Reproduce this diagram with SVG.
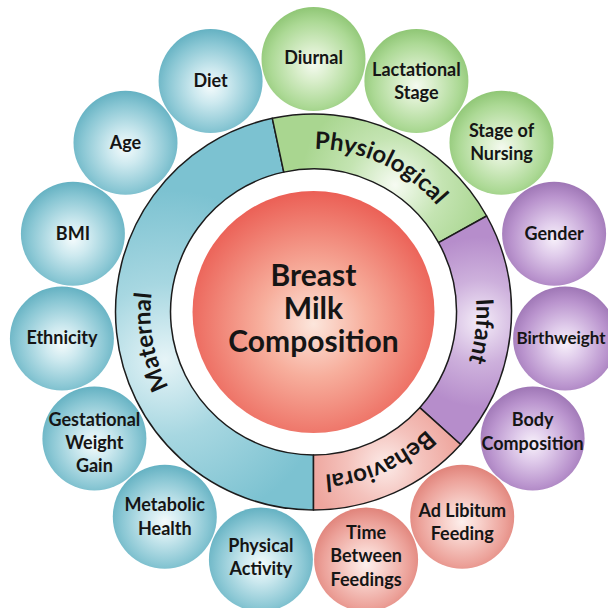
<svg xmlns="http://www.w3.org/2000/svg" width="608" height="608" viewBox="0 0 608 608">
<style>
  .t { font-family: Lato, "Open Sans", "Liberation Sans", sans-serif; font-weight: 700; fill: #151515; text-anchor: middle; }
  .b { font-size: 18px; }
  .c { font-size: 30px; }
  .r { font-size: 24px; }
  .seg { stroke: #1c1c1c; stroke-width: 1.5; stroke-linejoin: round; }
</style>
<defs>
  <radialGradient id="gBlue" cx="50%" cy="55%" r="55%">
    <stop offset="0" stop-color="#f4fbfc"/>
    <stop offset="0.3" stop-color="#cde9ef"/>
    <stop offset="0.75" stop-color="#8ac7d4"/>
    <stop offset="1" stop-color="#64b1c2"/>
  </radialGradient>
  <radialGradient id="gGreen" cx="50%" cy="55%" r="55%">
    <stop offset="0" stop-color="#f4faef"/>
    <stop offset="0.3" stop-color="#d9eecb"/>
    <stop offset="0.75" stop-color="#acd995"/>
    <stop offset="1" stop-color="#8fc675"/>
  </radialGradient>
  <radialGradient id="gPurple" cx="50%" cy="55%" r="55%">
    <stop offset="0" stop-color="#f7f0fa"/>
    <stop offset="0.3" stop-color="#e0cceb"/>
    <stop offset="0.75" stop-color="#b993cd"/>
    <stop offset="1" stop-color="#9e76b5"/>
  </radialGradient>
  <radialGradient id="gPink" cx="50%" cy="55%" r="55%">
    <stop offset="0" stop-color="#fdf0ed"/>
    <stop offset="0.3" stop-color="#f8d2cc"/>
    <stop offset="0.75" stop-color="#eca199"/>
    <stop offset="1" stop-color="#e0837a"/>
  </radialGradient>
  <radialGradient id="gCore" cx="50%" cy="55%" r="55%">
    <stop offset="0" stop-color="#fce6dc"/>
    <stop offset="0.4" stop-color="#f7ae9c"/>
    <stop offset="1" stop-color="#eb5f55"/>
  </radialGradient>
  <radialGradient id="gMat" gradientUnits="userSpaceOnUse" cx="165" cy="360" r="170">
    <stop offset="0" stop-color="#e6f4f7"/>
    <stop offset="0.45" stop-color="#a7d7e1"/>
    <stop offset="1" stop-color="#7cc2d1"/>
  </radialGradient>
  <radialGradient id="gPhys" gradientUnits="userSpaceOnUse" cx="395" cy="185" r="95">
    <stop offset="0" stop-color="#f6fbf2"/>
    <stop offset="0.5" stop-color="#c4e4b2"/>
    <stop offset="1" stop-color="#a9d690"/>
  </radialGradient>
  <radialGradient id="gInf" gradientUnits="userSpaceOnUse" cx="480" cy="322" r="85">
    <stop offset="0" stop-color="#f4ecf8"/>
    <stop offset="0.5" stop-color="#cdb0dc"/>
    <stop offset="1" stop-color="#b68dcb"/>
  </radialGradient>
  <radialGradient id="gBeh" gradientUnits="userSpaceOnUse" cx="385" cy="465" r="75">
    <stop offset="0" stop-color="#fcebe8"/>
    <stop offset="0.5" stop-color="#f4c2bc"/>
    <stop offset="1" stop-color="#eea59d"/>
  </radialGradient>
  <path id="lbl" d="M 313.5 149 A 163 163 0 1 1 313.5 475 A 163 163 0 1 1 313.5 149"/>
</defs>
<rect width="608" height="608" fill="#ffffff"/>

<g id="connectors"></g>

<g id="ring">
  <g id="maternal">
    <path class="seg" fill="url(#gMat)" d="M 313.5 510 A 198 198 0 0 1 272.33 118.33 L 283.77 172.13 A 143 143 0 0 0 313.5 455 Z"/>
    <text class="t r"><textPath href="#lbl" startOffset="72.1%">Maternal</textPath></text>
  </g>
  <g id="physiological">
    <path class="seg" fill="url(#gPhys)" d="M 272.33 118.33 A 198 198 0 0 1 486.67 216.01 L 438.57 242.67 A 143 143 0 0 0 283.77 172.13 Z"/>
    <text class="t r"><textPath href="#lbl" startOffset="6.9%">Physiological</textPath></text>
  </g>
  <g id="infant">
    <path class="seg" fill="url(#gInf)" d="M 486.67 216.01 A 198 198 0 0 1 460.63 444.48 L 419.76 407.68 A 143 143 0 0 0 438.57 242.67 Z"/>
    <text class="t r"><textPath href="#lbl" startOffset="26.81%">Infant</textPath></text>
  </g>
  <g id="behavioral">
    <path class="seg" fill="url(#gBeh)" d="M 460.63 444.48 A 198 198 0 0 1 313.5 510 L 313.5 455 A 143 143 0 0 0 419.76 407.68 Z"/>
    <text class="t r"><textPath href="#lbl" startOffset="43.33%">Behavioral</textPath></text>
  </g>
</g>

<g id="core">
  <circle cx="313.5" cy="312" r="121" fill="url(#gCore)"/>
  <text class="t c" x="313.5" y="286">Breast</text>
  <text class="t c" x="313.5" y="319">Milk</text>
  <text class="t c" x="313.5" y="352">Composition</text>
</g>

<g id="diurnal">
  <circle cx="313.5" cy="59" r="52" fill="url(#gGreen)"/>
  <text class="t b" x="313.5" y="64">Diurnal</text>
</g>
<g id="lactational-stage">
  <circle cx="416.4" cy="80.9" r="52" fill="url(#gGreen)"/>
  <text class="t b" x="416.4" y="76">Lactational</text>
  <text class="t b" x="416.4" y="99">Stage</text>
</g>
<g id="stage-of-nursing">
  <circle cx="501.5" cy="142.7" r="52" fill="url(#gGreen)"/>
  <text class="t b" x="501.5" y="137">Stage of</text>
  <text class="t b" x="501.5" y="160">Nursing</text>
</g>
<g id="gender">
  <circle cx="554.1" cy="233.8" r="52" fill="url(#gPurple)"/>
  <text class="t b" x="554.1" y="240">Gender</text>
</g>
<g id="birthweight">
  <circle cx="565.1" cy="338.4" r="52" fill="url(#gPurple)"/>
  <text class="t b" x="561" y="343.5" style="font-size:17px">Birthweight</text>
</g>
<g id="body-composition">
  <circle cx="532.6" cy="438.5" r="52" fill="url(#gPurple)"/>
  <text class="t b" x="532.6" y="426">Body</text>
  <text class="t b" x="532.6" y="449.5">Composition</text>
</g>
<g id="ad-libitum-feeding">
  <circle cx="462.2" cy="516.7" r="52" fill="url(#gPink)"/>
  <text class="t b" x="462.2" y="516.5">Ad Libitum</text>
  <text class="t b" x="462.2" y="539.5">Feeding</text>
</g>
<g id="time-between-feedings">
  <circle cx="366.1" cy="559.5" r="52" fill="url(#gPink)"/>
  <text class="t b" x="366.1" y="539">Time</text>
  <text class="t b" x="366.1" y="562.3">Between</text>
  <text class="t b" x="366.1" y="585.5">Feedings</text>
</g>
<g id="physical-activity">
  <circle cx="260.9" cy="559.5" r="52" fill="url(#gBlue)"/>
  <text class="t b" x="260.9" y="551.5">Physical</text>
  <text class="t b" x="260.9" y="574.8">Activity</text>
</g>
<g id="metabolic-health">
  <circle cx="164.8" cy="516.7" r="52" fill="url(#gBlue)"/>
  <text class="t b" x="164.8" y="511.3">Metabolic</text>
  <text class="t b" x="164.8" y="534.7">Health</text>
</g>
<g id="gestational-weight-gain">
  <circle cx="94.4" cy="438.5" r="52" fill="url(#gBlue)"/>
  <text class="t b" x="94.4" y="425.7">Gestational</text>
  <text class="t b" x="94.4" y="449">Weight</text>
  <text class="t b" x="94.4" y="472.3">Gain</text>
</g>
<g id="ethnicity">
  <circle cx="61.9" cy="338.4" r="52" fill="url(#gBlue)"/>
  <text class="t b" x="61.9" y="343.5">Ethnicity</text>
</g>
<g id="bmi">
  <circle cx="72.9" cy="233.8" r="52" fill="url(#gBlue)"/>
  <text class="t b" x="72.9" y="239.5">BMI</text>
</g>
<g id="age">
  <circle cx="125.5" cy="142.7" r="52" fill="url(#gBlue)"/>
  <text class="t b" x="125.5" y="149">Age</text>
</g>
<g id="diet">
  <circle cx="210.6" cy="80.9" r="52" fill="url(#gBlue)"/>
  <text class="t b" x="210.6" y="87">Diet</text>
</g>
</svg>
